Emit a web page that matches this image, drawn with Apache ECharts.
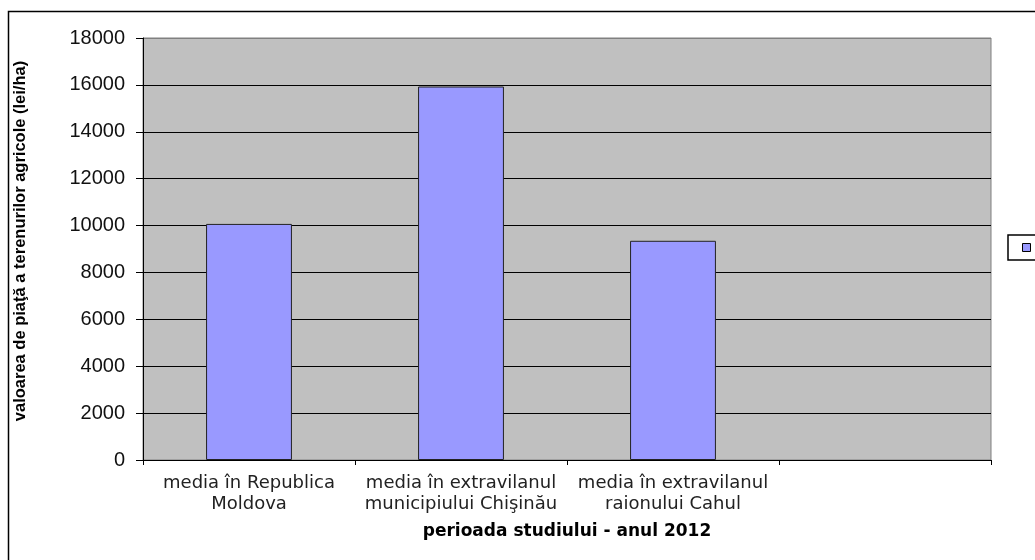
<!DOCTYPE html>
<html>
<head>
<meta charset="utf-8">
<script src="https://cdn.jsdelivr.net/npm/echarts@6/dist/echarts.min.js"></script>
<style>
html,body{margin:0;padding:0;background:#fff;}
#c{width:1035px;height:560px;}
</style>
</head>
<body>
<div id="c"></div>
<script>
const categories = ['media în Republica\nMoldova', 'media în extravilanul\nmunicipiului Chişinău', 'media în extravilanul\nraionului Cahul', ''];
const values = [10070, 15930, 9350, '-'];
const yTicks = [0, 2000, 4000, 6000, 8000, 10000, 12000, 14000, 16000, 18000];
const seriesName = 'valoare';
const yTitle = 'valoarea de piaţă a terenurilor agricole (lei/ha)';
const xTitle = 'perioada studiului - anul 2012';

const chart = echarts.init(document.getElementById('c'), null, {renderer: 'canvas'});
const gridColors = yTicks.map((v, i) => i === yTicks.length - 1 ? '#808080' : '#000000');
chart.setOption({
  animation: false,
  backgroundColor: '#ffffff',
  textStyle: {fontFamily: '"Liberation Sans", Arial, sans-serif'},
  graphic: [
    {type: 'rect', shape: {x: 8.5, y: 11.5, width: 1100, height: 600}, style: {fill: 'none', stroke: '#000', lineWidth: 1.5}, z: 0},
    {type: 'text', x: 20, y: 241, rotation: Math.PI / 2,
     style: {text: yTitle, font: 'bold 16.5px "Liberation Sans", Arial, sans-serif', fill: '#000', textAlign: 'center', textVerticalAlign: 'middle'}}
  ],
  grid: {left: 143, right: 44, top: 38, bottom: 100, show: true, backgroundColor: '#c0c0c0', borderColor: '#808080', borderWidth: 1},
  legend: {
    show: true,
    left: 1008, top: 235,
    orient: 'vertical',
    padding: [8, 40, 8, 14],
    borderColor: '#000', borderWidth: 1.5,
    itemWidth: 8, itemHeight: 8,
    icon: 'rect',
    formatter: () => '',
    textStyle: {fontSize: 10},
    itemStyle: {borderColor: '#000', borderWidth: 1},
    data: [seriesName]
  },
  xAxis: {
    type: 'category',
    data: categories,
    name: xTitle,
    nameLocation: 'middle',
    nameGap: 63,
    nameTextStyle: {fontWeight: 'bold', fontSize: 17, color: '#000', fontFamily: 'DejaVu Sans'},
    axisLine: {lineStyle: {color: '#000', width: 1}},
    axisTick: {show: true, length: 5, alignWithLabel: false, lineStyle: {color: '#000'}},
    axisLabel: {fontSize: 18, color: '#222', lineHeight: 21, margin: 13, interval: 0, fontFamily: 'DejaVu Sans'},
    splitLine: {show: false}
  },
  yAxis: {
    type: 'value',
    min: 0, max: 18000, interval: 2000,
    axisLine: {show: true, lineStyle: {color: '#000', width: 1}},
    axisTick: {show: true, length: 7, lineStyle: {color: '#000'}},
    axisLabel: {fontSize: 20, color: '#111', margin: 18, fontFamily: '"Liberation Sans", Arial, sans-serif', formatter: v => String(v)},
    splitLine: {show: true, lineStyle: {color: gridColors, width: 1}}
  },
  series: [{
    name: seriesName,
    type: 'bar',
    data: values,
    barWidth: '40.5%',
    itemStyle: {color: '#9999ff', borderColor: '#222', borderWidth: 1}
  }]
});
</script>
</body>
</html>
